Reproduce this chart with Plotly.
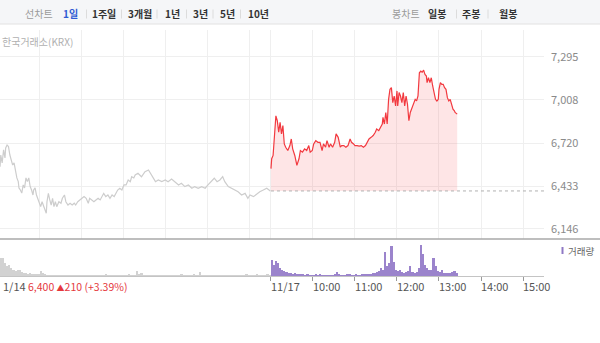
import plotly.graph_objects as go

# ---------------- data ----------------
# previous session (11/14): minutes after 09:00, price
prev_t = [3,4,6,8,10,11,13,15,17,19,21,23,25,27,29,30,32,34,36,38,40,42,44,46,48,50,51,53,55,57,
          59,61,63,65,67,69,70,72,74,76,78,80,82,84,87,90,92,95,97,100,103,106,109,111,114,117,120,123,126,129,
          131,134,137,140,143,146,149,151,154,157,160,163,166,169,171,174,177,180,183,186,189,191,194,
          196,200,205,210,215,219,222,225,229,234,239,243,248,253,258,262,267,272,277,281,286,291,296,300,
          305,309,313,317,321,324,329,334,339,343,348,353,357,360,365,370,374,379,384,389]
prev_p = [6562,6640,6587,6674,6620,6687,6707,6696,6640,6607,6573,6587,6529,6487,6462,6420,6406,6386,6440,6420,
          6487,6462,6487,6429,6406,6373,6406,6420,6373,6351,6318,6295,6328,6306,6273,6251,6328,6384,6340,6306,
          6351,6295,6328,6295,6328,6318,6351,6373,6328,6306,6318,6306,6318,6306,6328,6340,6351,6362,6351,6318,
          6351,6340,6328,6340,6351,6340,6362,6384,6362,6373,6351,6373,6362,6395,6406,6418,6406,6440,6440,6473,
          6462,6495,6487,
          6507,6518,6495,6529,6540,6507,6485,6462,6473,6462,6473,6462,6480,6462,6440,6451,6429,6440,6418,6429,
          6418,6429,6418,6440,6462,6485,6462,6473,6495,6462,6429,6418,6406,6395,6373,6384,6351,6373,6362,6384,
          6395,6406,6418,6400]

# today (11/17): minutes after 09:00, price
today_t = [0,1,3,5,7,9,11,13,15,17,19,21,24,27,29,31,34,37,40,42,45,48,51,54,56,59,61,64,67,70,
           73,75,78,80,83,85,88,91,93,96,99,101,104,107,110,113,115,118,120,123,126,129,132,135,138,140,
           143,146,149,151,154,157,159,160,162,164,166,168,170,172,174,176,178,180,181,183,185,187,189,191,
           193,195,197,199,201,204,206,208,210,212,214,216,218,220,222,223,225,227,229,231,233,235,237,239,
           240,242,244,246,248,250,252,254,256,258,260,262,263,266]
today_p = [6549,6615,6637,6770,6902,6869,6792,6858,6781,6836,6714,6692,6670,6703,6747,6681,6637,6571,6615,6670,
           6659,6681,6670,6703,6659,6670,6714,6736,6725,6725,6670,6714,6692,6736,6692,6714,6692,6725,6781,6758,
           6692,6703,6703,6692,6703,6747,6725,6714,6703,6703,6699,6703,6692,6703,6725,6747,6758,6770,6792,6814,
           6803,6825,6847,6891,6847,6924,6847,7012,7079,7090,6990,7034,6968,7068,6968,7057,7034,6990,7057,6968,
           7034,6979,6869,6924,6946,6979,7012,7001,7034,7189,7200,7193,7207,7178,7167,7123,7156,7123,7156,7101,
           7046,7012,7001,7012,7079,7123,7112,7112,7090,7079,7023,7001,7012,6979,6946,6935,6924,6913]

prev_close = 6400
price_ticks = [6146, 6433, 6720, 7008, 7295]
price_tick_text = ["6,146", "6,433", "6,720", "7,008", "7,295"]

# volume in 3-minute bins (thousand shares)
prev_vol = [55,55,55,40,30,35,25,20,15,20,18,12,10,8,6,8,5,5,4,4,15,8,4,3,2,3,2,2,3,2,
            2,3,2,2,2,3,2,2,2,3,2,2,3,2,2,2,2,3,2,2,
            3,6,2,2,3,2,2,2,3,2,2,3,6,3,2,3,15,4,8,3,
            2,3,2,2,3,2,2,3,2,2,3,2,2,2,3,2,3,4,2,2,
            3,2,3,6,3,2,12,3,2,2,3,2,2,3,2,2,3,2,2,3,
            2,2,3,2,3,2,3,2,5,3,2,3,2,4,3,2,3,2,5,3]
today_vol = [50,35,48,40,25,20,15,12,10,8,6,10,6,5,4,4,3,4,3,3,
             3,5,3,4,3,3,3,2,3,3,4,12,4,3,3,3,4,5,3,3,
             4,3,3,4,5,4,4,6,8,10,14,15,25,20,75,30,40,93,45,20,
             15,18,12,10,12,15,30,12,10,14,25,95,70,35,25,20,18,55,30,15,
             12,20,10,8,10,8,12,15,8]

day_offset = 390            # 11/14 session length (09:00-15:30) in minutes
bin_min = 3
hour_labels = ["10:00", "11:00", "12:00", "13:00", "14:00", "15:00"]

# ---------------- geometry helpers ----------------
W, H = 600, 343
ML, MR, MT, MB = 0, 56, 30, 67
PW = W - ML - MR
PH = H - MT - MB
def px(x):
    return (x - ML) / PW
def py(y):
    return (H - MB - y) / PH

x_lo, x_hi = 2.9, 780
y_lo, y_hi = 6079, 7475

prev_x = list(prev_t)
today_x = [t + day_offset for t in today_t]
prev_vx = [bin_min * i + bin_min / 2 for i in range(len(prev_vol))]
today_vx = [day_offset + bin_min * i + bin_min / 2 for i in range(len(today_vol))]

fig = go.Figure()

fig.add_trace(go.Scatter(x=prev_x, y=prev_p, mode="lines",
                         line=dict(color="#cdcdcd", width=1.2), hoverinfo="skip",
                         xaxis="x", yaxis="y"))
# baseline for fill
fig.add_trace(go.Scatter(x=[today_x[0], today_x[-1]], y=[prev_close, prev_close], mode="lines",
                         line=dict(color="rgba(0,0,0,0)", width=0), hoverinfo="skip",
                         xaxis="x", yaxis="y"))
fig.add_trace(go.Scatter(x=today_x, y=today_p, mode="lines", fill="tonexty",
                         fillcolor="rgba(246,80,90,0.15)",
                         line=dict(color="#f2393f", width=1.2), hoverinfo="skip",
                         xaxis="x", yaxis="y"))
# previous close dotted line
fig.add_trace(go.Scatter(x=[day_offset, x_hi], y=[prev_close, prev_close], mode="lines",
                         line=dict(color="#b0b0b0", width=1, dash="dot"), hoverinfo="skip",
                         xaxis="x", yaxis="y"))

fig.add_trace(go.Bar(x=prev_vx, y=prev_vol, width=bin_min * 0.8, marker=dict(color="#d2d2d2", line=dict(width=0)),
                     hoverinfo="skip", xaxis="x2", yaxis="y2"))
fig.add_trace(go.Bar(x=today_vx, y=today_vol, width=bin_min * 0.8, marker=dict(color="#9b84cc", line=dict(width=0)),
                     hoverinfo="skip", xaxis="x2", yaxis="y2"))

grid_vals = [60, 120, 180, 240, 300, 360, 390, 450, 510, 570, 630, 690, 750]
hour_ticks = [390, 450, 510, 570, 630, 690, 750]

fig.update_layout(
    width=W, height=H,
    margin=dict(l=ML, r=MR, t=MT, b=MB),
    paper_bgcolor="white", plot_bgcolor="white",
    showlegend=False,
    font=dict(family="Noto Sans CJK KR, sans-serif", size=11, color="#888"),
    xaxis=dict(domain=[0, 1], range=[x_lo, x_hi], anchor="y",
               tickvals=grid_vals, showticklabels=False, ticks="",
               showgrid=True, gridcolor="#efefef", gridwidth=1,
               zeroline=False, showline=False, fixedrange=True),
    yaxis=dict(domain=[py(239), 1], range=[y_lo, y_hi], side="right", anchor="x",
               tickvals=price_ticks, ticktext=price_tick_text,
               tickfont=dict(size=11, color="#8a8a8a"), ticks="", ticklabelstandoff=6,
               showgrid=True, gridcolor="#efefef", zeroline=False, showline=False),
    xaxis2=dict(domain=[0, 1], range=[x_lo, x_hi], anchor="y2", matches="x",
                tickvals=hour_ticks, showticklabels=False,
                ticks="outside", ticklen=4, tickcolor="#999", tickwidth=1,
                showgrid=False, zeroline=False, showline=True, linecolor="#c4c4c4", linewidth=1),
    yaxis2=dict(domain=[0, py(240)], range=[0, 112], anchor="x2",
                visible=False, showgrid=False, zeroline=False),
    bargap=0,
)

shapes = []
# top toolbar
shapes.append(dict(type="rect", xref="paper", yref="paper", x0=px(0), x1=px(600), y0=py(24), y1=py(0),
                   fillcolor="#f5f6f8", line=dict(width=0), layer="below"))
shapes.append(dict(type="line", xref="paper", yref="paper", x0=px(0), x1=px(600), y0=py(24), y1=py(24),
                   line=dict(color="#e2e2e2", width=1)))
for sx in [86.5, 121.5, 157, 186.5, 213, 240.5, 456.5, 488]:
    shapes.append(dict(type="line", xref="paper", yref="paper", x0=px(sx), x1=px(sx), y0=py(9.5), y1=py(18.5),
                       line=dict(color="#dcdcdc", width=1)))
# separator between price and volume panels
shapes.append(dict(type="line", xref="paper", yref="paper", x0=px(0), x1=px(600), y0=py(239), y1=py(239),
                   line=dict(color="#a8a8a8", width=1.5)))
# volume legend marker
shapes.append(dict(type="rect", xref="paper", yref="paper", x0=px(561.5), x1=px(563.5), y0=py(254), y1=py(247),
                   fillcolor="#8f78c4", line=dict(width=0)))
fig.update_layout(shapes=shapes)

ann = []
def text(x, y, s, size=11, color="#888", anchor="center", bold=False):
    ann.append(dict(xref="paper", yref="paper", x=px(x), y=py(y), text=("<b>%s</b>" % s) if bold else s,
                    showarrow=False, xanchor=anchor, yanchor="middle",
                    font=dict(size=size, color=color, family="Noto Sans CJK KR, sans-serif")))

# toolbar texts
text(38.5, 13.5, "선차트", 10, "#9a9a9a")
text(70, 13.5, "1일", 10, "#2f5bd3", bold=True)
text(103.5, 13.5, "1주일", 10, "#333", bold=True)
text(140, 13.5, "3개월", 10, "#333", bold=True)
text(172.5, 13.5, "1년", 10, "#333", bold=True)
text(200.5, 13.5, "3년", 10, "#333", bold=True)
text(227.5, 13.5, "5년", 10, "#333", bold=True)
text(258, 13.5, "10년", 10, "#333", bold=True)
text(406, 13.5, "봉차트", 10, "#9a9a9a")
text(436.5, 13.5, "일봉", 10, "#333", bold=True)
text(471, 13.5, "주봉", 10, "#333", bold=True)
text(508, 13.5, "월봉", 10, "#333", bold=True)

# exchange label
text(0, 41.5, "한국거래소(KRX)", 10, "#b0b0b0", anchor="left")

# x labels
text(1, 286, "1/14", 11, "#555", anchor="left")
text(26, 286, "6,400 <span style='font-size:8px'>▲</span>210 (+3.39%)", 10.5, "#e5383d", anchor="left")
text(269, 286, "11/17", 11, "#555", anchor="left")
for i, lab in enumerate(hour_labels):
    xpix = ML + (hour_ticks[i + 1] - x_lo) / (x_hi - x_lo) * PW
    text(xpix - 1.5, 286, lab, 11, "#555", anchor="left")

# volume legend text
text(566, 250.5, "거래량", 9.5, "#666", anchor="left")

fig.update_layout(annotations=ann)

fig.write_html("out.html")
